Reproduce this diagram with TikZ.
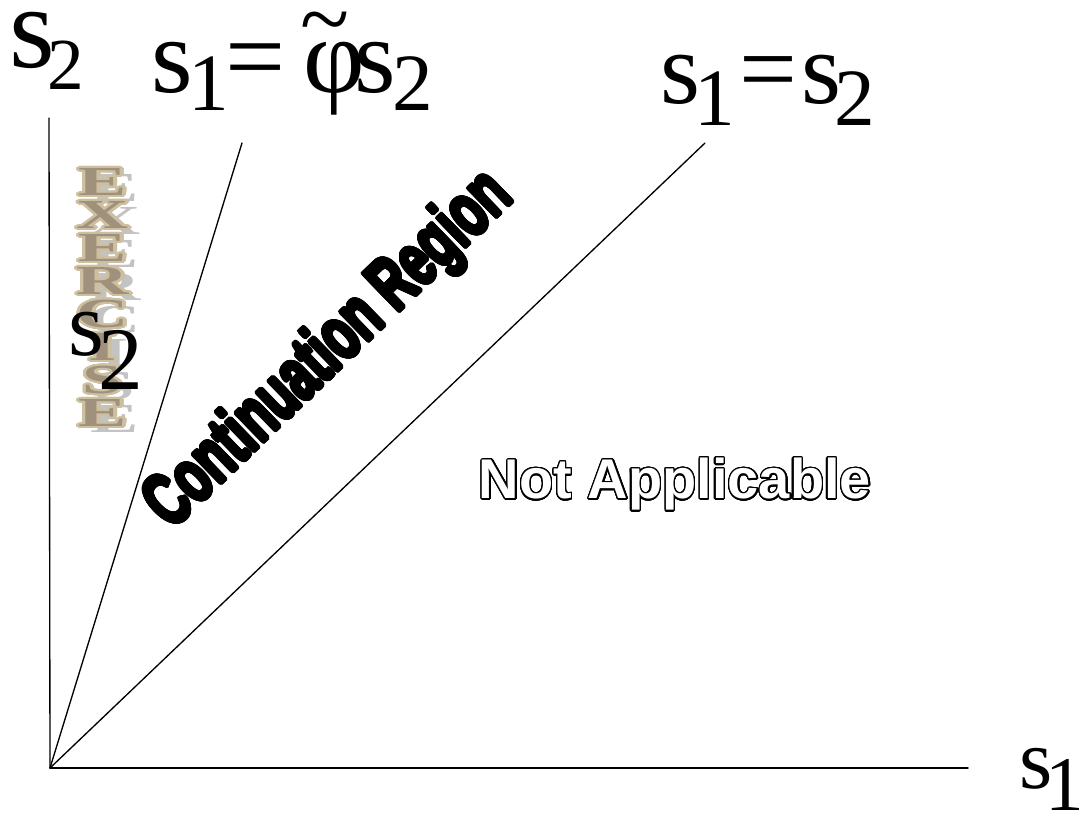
\documentclass[tikz,border=0pt]{standalone}
\usepackage{fontspec}
\setmainfont{Liberation Serif}
\newfontfamily\tnr{Liberation Serif}
\newfontfamily\arialf{Liberation Sans}
\usepackage{contour}
\contournumber{32}
\definecolor{tanrim}{RGB}{205,192,160}
\definecolor{tanfill}{RGB}{160,145,125}
\definecolor{shadowgray}{RGB}{195,195,195}
% size of s, size of index, drop of index, index, kern between s and index
\newcommand{\slab}[5]{{\tnr\fontsize{#1}{#1}\selectfont s}\kern#5\raisebox{-#3}{\tnr\fontsize{#2}{#2}\selectfont #4}}
\newcommand{\bigsym}[2]{{\tnr\fontsize{#1}{#1}\selectfont #2}}
\newcommand{\exletter}[1]{\contour{tanrim}{\textcolor{tanfill}{#1}}}
\tikzset{
  axisline/.style={line width=1pt, line cap=round},
  bound/.style={line width=1pt, line cap=round},
  lab/.style={inner sep=0pt, outer sep=0pt, anchor=base west},
  exl/.style={inner sep=0pt, font=\tnr\bfseries\fontsize{31pt}{31pt}\selectfont, xscale=1.75},
}
\begin{document}
\begin{tikzpicture}[x=0.75pt,y=-0.75pt]
\useasboundingbox (0,0) rectangle (1083,819);
\coordinate (O) at (50,768);
\coordinate (ytop) at (49,118);
\coordinate (xend) at (968,768);
\coordinate (phiend) at (242,143);
\coordinate (diagend) at (705,143);
\draw[axisline] (O) -- (ytop);
\draw[axisline] (O) -- (xend);
\draw[bound] (O) -- (phiend);
\draw[bound] (O) -- (diagend);
% EXERCISE stacked letters
\contourlength{1.4pt}
\foreach \L [count=\i from 0] in {E,X,E,R,C,I,S,E}{
  \node[exl, text=shadowgray] (sh\i) at (115,{188+33*\i}) {\L};
  \node[exl] (ex\i) at (103,{183+33*\i}) {\exletter{\L}};
}
% labels
\node[lab] (lys) at (10,67) {\smash{\slab{88pt}{55pt}{17pt}{2}{-6pt}}};
\node[lab] (lphi) at (151,92) {\smash{\slab{80pt}{61pt}{13.5pt}{1}{-3pt}\kern-3pt\bigsym{80pt}{=}\kern14pt\bigsym{80pt}{φ}\kern-8pt\slab{80pt}{61pt}{13.5pt}{2}{-3pt}}};
\node[lab, anchor=base] (tilde) at (325,49) {\bigsym{68pt}{\raisebox{0pt}[0pt][0pt]{\char"007E}}};
\node[lab] (ldiag) at (660,103) {\slab{77pt}{61pt}{17pt}{1}{-4pt}\kern3pt\bigsym{77pt}{=}\kern3pt\slab{77pt}{61pt}{17pt}{2}{-5pt}};
\node[lab] (lxs) at (1019,788) {\slab{64pt}{58pt}{16.5pt}{1}{-5pt}};
\node[lab] (lmid) at (68,355) {\slab{69pt}{67pt}{26pt}{2}{-4pt}};
% region labels
\contourlength{1.7pt}
\node[inner sep=0pt, rotate=44, xscale=0.65, font=\arialf\bfseries\fontsize{56pt}{56pt}\selectfont] (cont) at (331,352) {\contour{black}{Continuation Region}};
\contourlength{1pt}
\node[inner sep=0pt, font=\arialf\bfseries\fontsize{42pt}{42pt}\selectfont, text=white] (na) at (675,485) {\contour{black}{Not Applicable}};
\end{tikzpicture}
\end{document}
